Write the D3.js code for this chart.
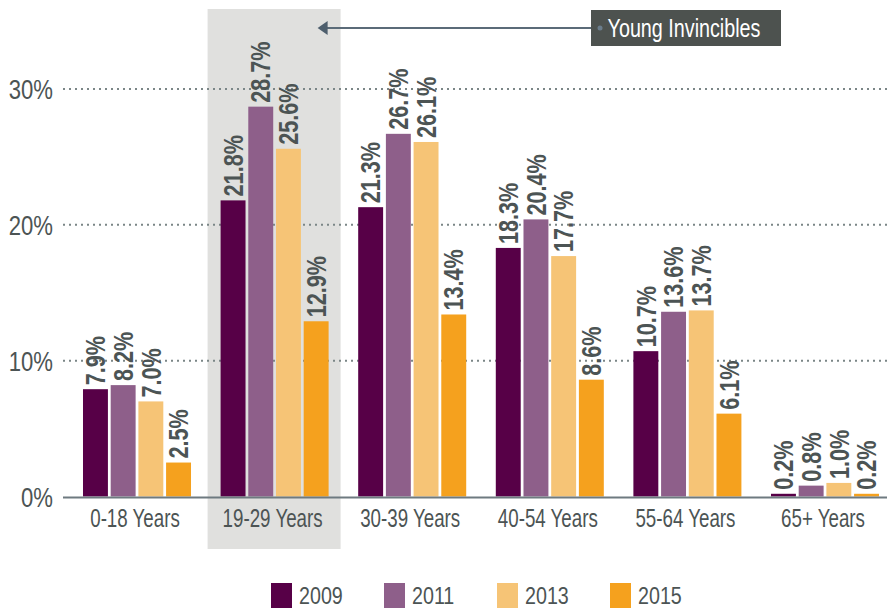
<!DOCTYPE html>
<html>
<head>
<meta charset="utf-8">
<script src="https://cdn.jsdelivr.net/npm/d3@7"></script>
<style>
  body { margin: 0; background: #fff; }
  svg text { font-family: "Liberation Sans", Arial, sans-serif; }
</style>
</head>
<body>
<div id="chart"></div>
<script>
// chart data
var ageGroups = ["0-18 Years", "19-29 Years", "30-39 Years", "40-54 Years", "55-64 Years", "65+ Years"];
var years = ["2009", "2011", "2013", "2015"];
var values2009 = [7.9, 21.8, 21.3, 18.3, 10.7, 0.2];
var values2011 = [8.2, 28.7, 26.7, 20.4, 13.6, 0.8];
var values2013 = [7.0, 25.6, 26.1, 17.7, 13.7, 1.0];
var values2015 = [2.5, 12.9, 13.4, 8.6, 6.1, 0.2];
var yTicks = [0, 10, 20, 30];
var highlightGroup = "19-29 Years";
var calloutText = "Young Invincibles";

var yearColors = ["#570047", "#8e5f8a", "#f6c476", "#f5a11e"];
var seriesValues = [values2009, values2011, values2013, values2015];

var svgWidth = 887;
var svgHeight = 609;
var textColor = "#4c5454";

var svg = d3.select("#chart")
    .append("svg")
    .attr("width", svgWidth)
    .attr("height", svgHeight);

// no condensed font installed, so squeeze Liberation Sans horizontally
function condensed(x, y, sx, rot) {
  return `translate(${x},${y})` + (rot ? ` rotate(${rot})` : "") + ` scale(${sx},1)`;
}

// scales
var x0 = d3.scaleBand()
    .domain(ageGroups)
    .range([68.2, 893.8])
    .paddingInner(0.215)
    .paddingOuter(0.1075);

var x1 = d3.scaleBand()
    .domain(years)
    .range([0, x0.bandwidth()])
    .paddingInner(0.1)
    .paddingOuter(0);

var y = d3.scaleLinear()
    .domain([0, 30])
    .range([496.5, 89]);

var color = d3.scaleOrdinal().domain(years).range(yearColors);

// grey band behind the young invincibles group
svg.append("rect")
    .attr("x", x0(highlightGroup) - 13)
    .attr("y", 9)
    .attr("width", x0.bandwidth() + 25)
    .attr("height", 549 - 9)
    .attr("fill", "#e0e0de");

// dotted gridlines
svg.append("g")
  .selectAll("line")
  .data(yTicks.filter(d => d > 0))
  .enter()
  .append("line")
    .attr("x1", 63)
    .attr("x2", svgWidth)
    .attr("y1", d => y(d))
    .attr("y2", d => y(d))
    .attr("stroke", "#7b8687")
    .attr("stroke-width", 2)
    .attr("stroke-dasharray", "2,4");

// y tick labels
svg.append("g")
  .selectAll("text")
  .data(yTicks)
  .enter()
  .append("text")
    .attr("transform", d => condensed(53, y(d), 0.79))
    .attr("dy", "0.36em")
    .attr("text-anchor", "end")
    .attr("font-size", 28)
    .attr("fill", textColor)
    .text(d => d + "%");

// flatten the series into one row per bar
var barData = [];
ageGroups.forEach(function(group, i) {
  years.forEach(function(year, j) {
    barData.push({ group: group, year: year, value: seriesValues[j][i] });
  });
});

var groups = svg.append("g")
  .selectAll("g")
  .data(ageGroups)
  .enter()
  .append("g")
    .attr("transform", d => `translate(${x0(d)},0)`);

groups.selectAll("rect")
  .data(g => barData.filter(b => b.group === g))
  .enter()
  .append("rect")
    .attr("x", d => x1(d.year))
    .attr("y", d => y(d.value))
    .attr("width", x1.bandwidth())
    .attr("height", d => y(0) - y(d.value))
    .attr("fill", d => color(d.year));

// rotated value labels above the bars
groups.selectAll("text")
  .data(g => barData.filter(b => b.group === g))
  .enter()
  .append("text")
    .attr("transform", d => condensed(x1(d.year) + x1.bandwidth() / 2, y(d.value) - 4, 0.8, -90))
    .attr("dy", "0.36em")
    .attr("font-size", 27)
    .attr("font-weight", "bold")
    .attr("fill", textColor)
    .text(d => d.value.toFixed(1) + "%");

// baseline
svg.append("line")
    .attr("x1", 63)
    .attr("x2", svgWidth)
    .attr("y1", y(0) + 1)
    .attr("y2", y(0) + 1)
    .attr("stroke", "#6e7a80")
    .attr("stroke-width", 2);

// category labels
svg.append("g")
  .selectAll("text")
  .data(ageGroups)
  .enter()
  .append("text")
    .attr("transform", d => condensed(x0(d) + x0.bandwidth() / 2 - 2, 527, 0.75))
    .attr("text-anchor", "middle")
    .attr("font-size", 25)
    .attr("fill", textColor)
    .text(d => d);

// callout box with arrow
var boxX = 591, boxY = 10, boxW = 190, boxH = 36;
var arrowY = 28;
var arrowTip = x0(highlightGroup) + x0.bandwidth() - 11;

svg.append("line")
    .attr("x1", boxX + 9)
    .attr("x2", arrowTip + 8)
    .attr("y1", arrowY)
    .attr("y2", arrowY)
    .attr("stroke", "#5b6b78")
    .attr("stroke-width", 2);

svg.append("path")
    .attr("d", `M${arrowTip},${arrowY} L${arrowTip + 10},${arrowY - 7} L${arrowTip + 10},${arrowY + 7} Z`)
    .attr("fill", "#4e5f6d");

svg.append("rect")
    .attr("x", boxX)
    .attr("y", boxY)
    .attr("width", boxW)
    .attr("height", boxH)
    .attr("fill", "#4d524f");

svg.append("circle")
    .attr("cx", boxX + 9)
    .attr("cy", arrowY)
    .attr("r", 2.5)
    .attr("fill", "#6b7d8c");

svg.append("text")
    .attr("transform", condensed(boxX + boxW / 2 - 2, boxY + boxH / 2, 0.79))
    .attr("dy", "0.36em")
    .attr("text-anchor", "middle")
    .attr("font-size", 25)
    .attr("fill", "#ffffff")
    .text(calloutText);

// legend
var legend = svg.append("g")
  .selectAll("g")
  .data(years)
  .enter()
  .append("g")
    .attr("transform", (d, i) => `translate(${271 + i * 113},583)`);

legend.append("rect")
    .attr("width", 21)
    .attr("height", 25)
    .attr("fill", d => color(d));

legend.append("text")
    .attr("transform", condensed(28, 21, 0.82))
    .attr("font-size", 24)
    .attr("fill", textColor)
    .text(d => d);
</script>
</body>
</html>
